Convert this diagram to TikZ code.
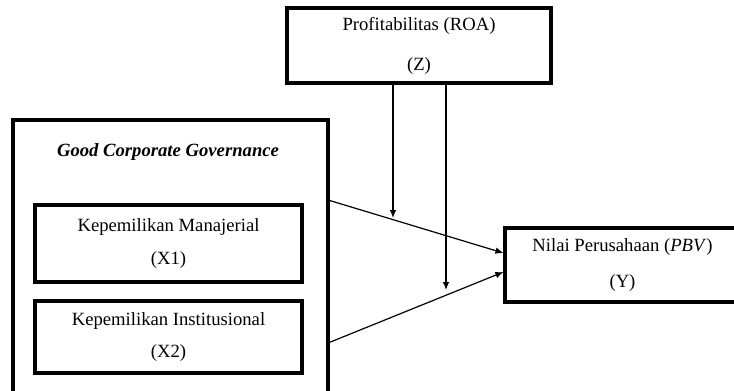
\documentclass[tikz,border=0pt]{standalone}
\usepackage{fontspec}
\setmainfont{Liberation Serif}
\usepackage{tikz}
\usetikzlibrary{positioning,arrows.meta}
\newcommand{\px}{0.75pt}

\begin{document}
\begin{tikzpicture}[x=\px,y=\px,line width=0.9pt,>={Latex[length=6pt,width=5pt]},
	var/.style={draw,line width=2.4pt,align=center,inner sep=0pt,font=\fontsize{14}{17}\selectfont}]

		\clip (0,0) rectangle (734,390);

		%the moderating variable
		\node[var,minimum width=264*\px,minimum height=75*\px] (z) at (419,344.5) {Profitabilitas (ROA)\\[13pt](Z)};

		%the independent variables
		\node[var,minimum width=315*\px,minimum height=275*\px] (gcg) at (170.5,132.5) {};
		\node[font=\fontsize{14}{17}\selectfont\bfseries\itshape] (gcgt) at (168,238) {Good Corporate Governance};
		\node[var,minimum width=267*\px,minimum height=77*\px] (x1) at (168.5,146.5) {Kepemilikan Manajerial\\[7.5pt](X1)};
		\node[var,minimum width=267*\px,minimum height=72*\px] (x2) at (168.5,53) {Kepemilikan Institusional\\[7pt](X2)};

		%the dependent variable
		\node[var,minimum width=235*\px,minimum height=74*\px] (y) at (622.5,125) {Nilai Perusahaan (\textit{PBV})\\[10.5pt](Y)};

		% the paths
		\coordinate (s1) at (328,190);
		\coordinate (s2) at (328,47);
		\draw[->] (s1) -- ([yshift=12*\px]y.west);
		\draw[->] (s2) -- ([yshift=-7*\px]y.west);

		% the moderation
		\coordinate (m1) at (393,172);
		\coordinate (m2) at (446,100);
		\draw[->] (z.south -| m1) -- (m1);
		\draw[->] (z.south -| m2) -- (m2);

	\end{tikzpicture}
\end{document}
